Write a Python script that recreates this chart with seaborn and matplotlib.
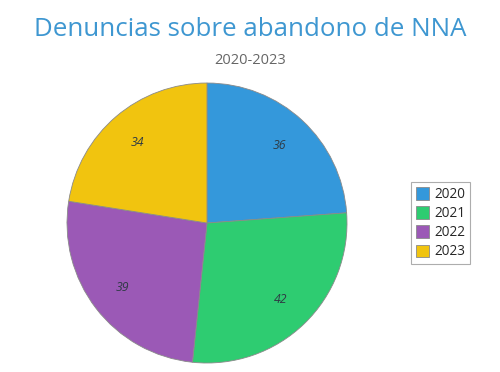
import numpy as np
import pandas as pd
import matplotlib.pyplot as plt
import seaborn as sns

# data
years = ['2020', '2021', '2022', '2023']
denuncias = [36, 42, 39, 34]
colores = ['#3498db', '#2ecc71', '#9b59b6', '#f1c40f']

sns.set_theme(style='white')
plt.rcParams['font.family'] = ['Open Sans', 'DejaVu Sans']

df = pd.DataFrame({'anio': years, 'denuncias': denuncias})

fig = plt.figure(figsize=(5, 3.72), dpi=100)
ax = fig.add_axes([0.134, 0.024, 0.56, 0.753])

wedges, texts = ax.pie(df['denuncias'], labels=[str(v) for v in df['denuncias']],
                       colors=colores, startangle=90, counterclock=False,
                       labeldistance=0.76,
                       wedgeprops={'edgecolor': '#8a8a8a', 'linewidth': 0.6},
                       textprops={'fontsize': 8.8, 'style': 'italic', 'color': '#2e3a44'})
for t in texts:
    t.set_horizontalalignment('center')
    t.set_verticalalignment('center')
ax.set_xlim(-1, 1)
ax.set_ylim(-1, 1)
ax.set_aspect('equal')

fig.text(0.5, 0.92, 'Denuncias sobre abandono de NNA', ha='center', va='center',
         fontsize=18.6, color='#3e97d1')
fig.text(0.5, 0.838, '2020-2023', ha='center', va='center', fontsize=10.5, color='#666666')

leg = fig.legend(wedges, df['anio'], loc='center left', bbox_to_anchor=(0.822, 0.4),
                 frameon=True, fancybox=False, fontsize=9.8, handlelength=1.0,
                 handleheight=1.0, handletextpad=0.35, borderpad=0.35, labelspacing=0.3,
                 borderaxespad=0)
leg.get_frame().set_edgecolor('#999999')
leg.get_frame().set_linewidth(0.8)

fig.savefig('out.png', dpi=100)
